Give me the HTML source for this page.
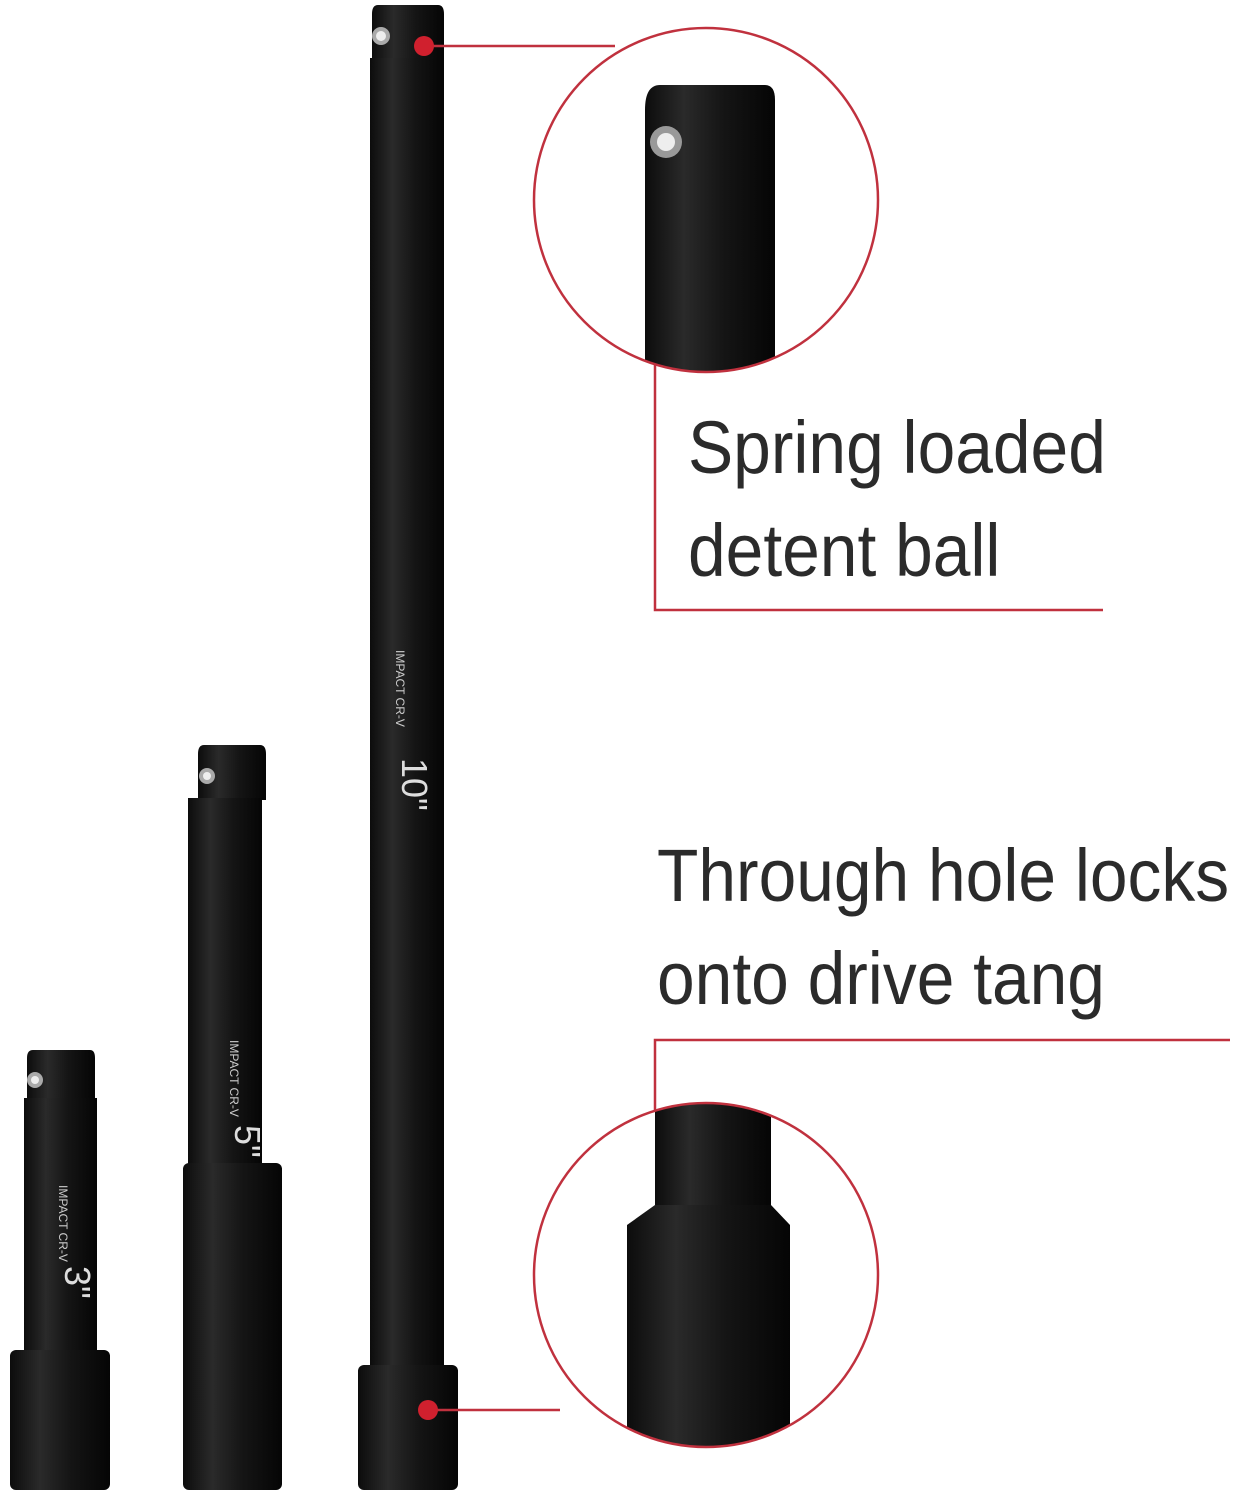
<!DOCTYPE html>
<html><head><meta charset="utf-8"><style>
body{margin:0;background:#fff;width:1233px;height:1500px;overflow:hidden;position:relative;font-family:"Liberation Sans",sans-serif}
.t{position:absolute;color:#2b2b2b;font-size:74px;line-height:103px;transform-origin:0 0;transform:scaleX(.915);white-space:nowrap;font-weight:500}
</style></head><body>
<svg width="1233" height="1500" style="position:absolute;left:0;top:0">
<defs>
<linearGradient id="g" x1="0" x2="1"><stop offset="0" stop-color="#0c0c0c"/><stop offset=".3" stop-color="#2a2a2a"/><stop offset=".6" stop-color="#151515"/><stop offset="1" stop-color="#050505"/></linearGradient>
<clipPath id="c1"><circle cx="706" cy="200" r="172"/></clipPath>
<clipPath id="c2"><circle cx="706" cy="1275" r="172"/></clipPath>
</defs>
<path d="M372 5 H438 Q444 5 444 14 V60 H372 V14 Q372 5 378 5Z" fill="url(#g)"/>
<rect x="370" y="58" width="74" height="1310" fill="url(#g)"/>
<rect x="358" y="1365" width="100" height="125" rx="6" fill="url(#g)"/>
<circle cx="381" cy="36" r="9" fill="#aaa"/><circle cx="381" cy="36" r="5" fill="#eee"/>
<path d="M202 745 H260 Q266 745 266 754 V800 H198 V754 Q198 745 204 745Z" fill="url(#g)"/>
<rect x="188" y="798" width="74" height="370" fill="url(#g)"/>
<rect x="183" y="1163" width="99" height="327" rx="6" fill="url(#g)"/>
<circle cx="207" cy="776" r="8" fill="#aaa"/><circle cx="207" cy="776" r="4" fill="#eee"/>
<path d="M31 1050 H90 Q95 1050 95 1058 V1100 H27 V1058 Q27 1050 33 1050Z" fill="url(#g)"/>
<rect x="24" y="1098" width="73" height="255" fill="url(#g)"/>
<rect x="10" y="1350" width="100" height="140" rx="6" fill="url(#g)"/>
<circle cx="35" cy="1080" r="8" fill="#aaa"/><circle cx="35" cy="1080" r="4" fill="#eee"/>
<g fill="#ddd" font-family="Liberation Sans" font-size="36">
<text transform="translate(402,758) rotate(90)">10"</text>
<text transform="translate(235,1125) rotate(90)">5"</text>
<text transform="translate(65,1266) rotate(90)">3"</text>
</g>
<g fill="#ccc" font-family="Liberation Sans" font-size="12">
<text transform="translate(396,650) rotate(90)">IMPACT CR-V</text>
<text transform="translate(230,1040) rotate(90)">IMPACT CR-V</text>
<text transform="translate(59,1185) rotate(90)">IMPACT CR-V</text>
</g>
<g clip-path="url(#c1)">
<path d="M660 85 H765 Q775 85 775 100 V380 H645 V110 Q645 85 660 85Z" fill="url(#g)"/>
<circle cx="666" cy="142" r="16" fill="#999"/><circle cx="666" cy="142" r="9" fill="#eee"/>
</g>
<g clip-path="url(#c2)">
<rect x="655" y="1090" width="116" height="130" fill="url(#g)"/>
<path d="M655 1205 L627 1225 V1460 H790 V1225 L771 1205Z" fill="url(#g)"/>
</g>
<g stroke="#c0313e" stroke-width="2.5" fill="none">
<circle cx="706" cy="200" r="172"/>
<circle cx="706" cy="1275" r="172"/>
<polyline points="424,46 615,46"/>
<polyline points="655,365 655,610 1103,610"/>
<polyline points="1230,1040 655,1040 655,1110"/>
<polyline points="428,1410 560,1410"/>
</g>
<circle cx="424" cy="46" r="10" fill="#d0202e"/>
<circle cx="428" cy="1410" r="10" fill="#d0202e"/>
</svg>
<div class="t" style="left:688px;top:396px">Spring loaded<br>detent ball</div>
<div class="t" style="left:657px;top:824px">Through hole locks<br>onto drive tang</div>
</body></html>
